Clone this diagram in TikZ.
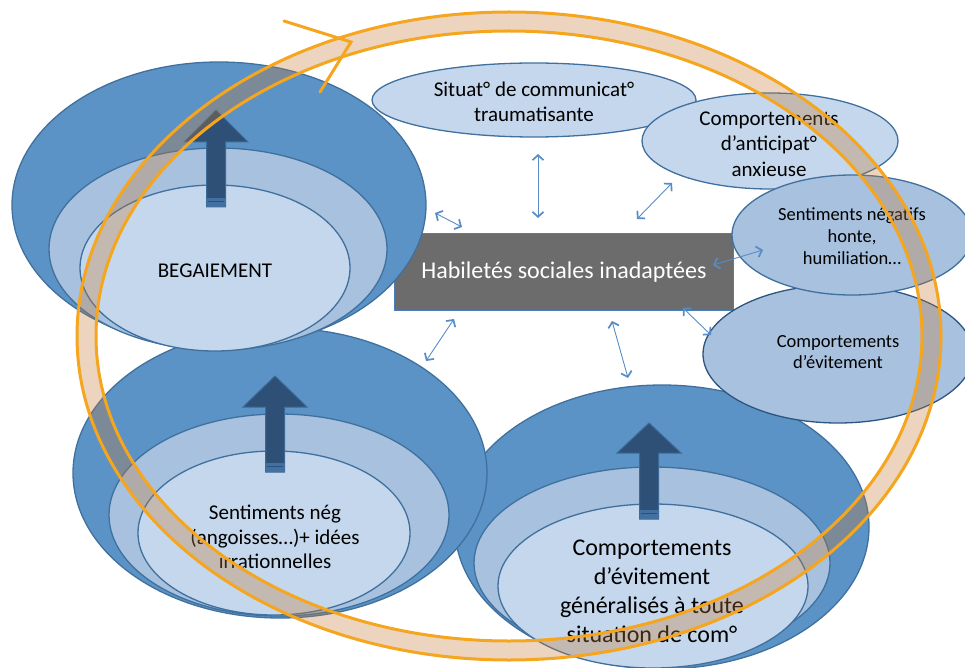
\documentclass[tikz,border=0pt]{standalone}
\usepackage{fontspec}
\setmainfont{Carlito}
\usetikzlibrary{shapes.geometric,arrows.meta}
\definecolor{bDark}{RGB}{91,147,198}
\definecolor{bMid}{RGB}{167,193,223}
\definecolor{bLight}{RGB}{197,215,236}
\definecolor{bEdge}{RGB}{64,112,158}
\definecolor{bEdgeDark}{RGB}{46,85,128}
\definecolor{bArrow}{RGB}{46,80,119}
\definecolor{bArrowEdge}{RGB}{62,105,150}
\definecolor{bShaftEnd}{RGB}{66,112,160}
\definecolor{rectGray}{RGB}{108,108,108}
\definecolor{rectEdge}{RGB}{74,126,187}
\definecolor{thinArrow}{RGB}{88,140,198}
\definecolor{ringOrange}{RGB}{245,165,30}
\definecolor{ringFill}{RGB}{195,122,53}
\tikzset{
  blob/.style={ellipse, draw=bEdge, line width=1.3pt, inner sep=0pt, outer sep=0pt},
  darkblob/.style={blob, fill=bDark},
  midblob/.style={blob, fill=bMid},
  lightblob/.style={blob, fill=bLight},
  lbl/.style={align=center, inner sep=0pt, text=black},
  mybarb/.tip={Straight Barb[length=5pt,width=11pt,line width=1.7pt]},
  thinarr/.style={draw=thinArrow, line width=0.9pt, mybarb-mybarb},
  blockarrow/.style={fill=bArrow, draw=bArrowEdge, line width=1pt, line join=miter},
  ringline/.style={draw=ringOrange, line width=3pt}
}
\newcommand{\upblock}[5]{%
  % #1 cx, #2 tip y, #3 head base y, #4 shaft bottom y, #5 name
  \path[blockarrow] (#1,#2) -- (#1+32,#3) -- (#1+9.5,#3) -- (#1+9.5,#4) -- (#1-9.5,#4) -- (#1-9.5,#3) -- (#1-32,#3) -- cycle;
  \fill[bShaftEnd] (#1-9.5,#4-9) rectangle (#1+9.5,#4);
  \draw[bArrow, line width=0.8pt] (#1-8,#4-5.5) -- (#1+8,#4-5.5);
  \coordinate (#5) at (#1,#2);
}
\begin{document}
\begin{tikzpicture}[x=1pt,y=-1pt]
\useasboundingbox (0,0) rectangle (965,668);
\clip (0,0) rectangle (965,668);

% central rectangle
\node[draw=rectEdge, fill=rectGray, line width=1.3pt, minimum width=339pt, minimum height=77pt, inner sep=0pt,
      text=white, font=\fontsize{24}{29}\selectfont] (hab) at (564,272) {Habiletés sociales inadaptées};

% bottom-right group
\node[darkblob, minimum width=414pt, minimum height=284pt] (brO) at (662,527) {};
\node[midblob, minimum width=356pt, minimum height=192pt] (brM) at (652,563) {};
\node[lightblob, minimum width=310pt, minimum height=164pt] (brI) at (653,586) {};
\upblock{649}{423}{453}{519}{brA}
\node[lbl, font=\fontsize{24}{29}\selectfont] (brT) at (652,591) {Comportements\\d’évitement\\généralisés à toute\\situation de com°};

% lower-left group
\node[darkblob, minimum width=414pt, minimum height=290pt] (llO) at (280,473) {};
\node[midblob, minimum width=340pt, minimum height=202pt] (llM) at (279,515) {};
\node[lightblob, minimum width=272pt, minimum height=164pt] (llI) at (274,533) {};
\upblock{275}{376}{407}{472}{llA}
\node[lbl, font=\fontsize{21}{24.5}\selectfont] (llT) at (275,537) {Sentiments nég\\(angoisses…)+ idées\\irrationnelles};

% begaiement group
\node[darkblob, minimum width=414pt, minimum height=286pt] (bgO) at (219,205) {};
\node[midblob, minimum width=338pt, minimum height=202pt] (bgM) at (218,249) {};
\node[lightblob, minimum width=270pt, minimum height=166pt] (bgI) at (215,268) {};
\upblock{216}{110}{142}{207}{bgA}
\node[lbl, font=\fontsize{21}{25}\selectfont] (bgT) at (215,271) {BEGAIEMENT};

% right-hand ellipses
\node[blob, draw=bEdgeDark, fill=bMid, minimum width=270pt, minimum height=138pt] (evit) at (838,354) {};
\node[lbl, font=\fontsize{18.5}{21.5}\selectfont] (evitT) at (838,352) {Comportements\\d’évitement};
\node[lightblob, minimum width=324pt, minimum height=74pt] (sit) at (534,100) {};
\node[lbl, font=\fontsize{21}{25.5}\selectfont] (sitT) at (534,102) {Situat° de communicat°\\traumatisante};
\node[lightblob, minimum width=256pt, minimum height=96pt] (anti) at (770,141) {};
\node[lbl, font=\fontsize{21}{25.5}\selectfont] (antiT) at (769,144) {Comportements\\d’anticipat°\\anxieuse};
\node[midblob, minimum width=240pt, minimum height=120pt] (neg) at (852,235) {};
\node[lbl, font=\fontsize{18.5}{22}\selectfont] (negT) at (852,236) {Sentiments négatifs\\honte,\\humiliation…};

% thin double arrows
\coordinate (a1s) at (435,213); \coordinate (a1e) at (462,227);
\coordinate (a2s) at (538,154); \coordinate (a2e) at (538,218);
\coordinate (a3s) at (672,183); \coordinate (a3e) at (637,219);
\coordinate (a4s) at (713,265); \coordinate (a4e) at (763,250);
\coordinate (a5s) at (683,308); \coordinate (a5e) at (711,335);
\coordinate (a6s) at (612,321); \coordinate (a6e) at (628,378);
\coordinate (a7s) at (454,319); \coordinate (a7e) at (426,361);
\foreach \i in {1,...,7} { \draw[thinarr] (a\i s) -- (a\i e); }

% orange ring
\fill[ringFill, opacity=0.32, even odd rule]
  (509,336) ellipse [x radius=432pt, y radius=324pt]
  (509,336) ellipse [x radius=413pt, y radius=305pt];
\draw[ringline] (509,336) ellipse [x radius=432pt, y radius=324pt];
\draw[ringline] (509,336) ellipse [x radius=413pt, y radius=305pt];
\coordinate (v1) at (284,21); \coordinate (vt) at (351,42); \coordinate (v2) at (320,92);
\draw[ringline, line cap=round] (v1) -- (vt) -- (v2);
\end{tikzpicture}
\end{document}
